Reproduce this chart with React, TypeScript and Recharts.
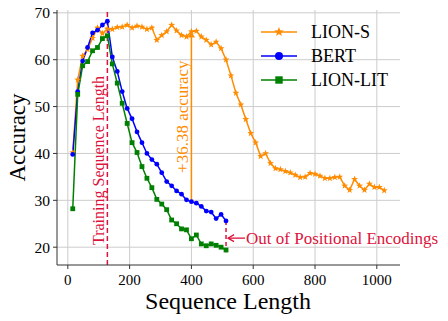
import { LineChart, Line, XAxis, YAxis, CartesianGrid, ReferenceLine, Legend } from 'recharts';

const seqLenLong = [
  16, 32, 48, 64, 80, 96, 112, 128, 144, 160, 176, 192, 208, 224, 240, 256,
  272, 288, 304, 320, 336, 352, 368, 384, 400, 416, 432, 448, 464, 480, 496, 512,
  528, 544, 560, 576, 592, 608, 624, 640, 656, 672, 688, 704, 720, 736, 752, 768,
  784, 800, 816, 832, 848, 864, 880, 896, 912, 928, 944, 960, 976, 992, 1008, 1024,
];
const lionS = [
  40.2, 55.7, 60.8, 62.2, 64.6, 66.8, 65.6, 66.6, 66.5, 66.9, 67.0, 67.4, 66.8, 67.2, 67.0, 66.5,
  66.8, 64.2, 65.2, 66.0, 67.4, 66.2, 65.2, 64.9, 66.0, 66.1, 64.9, 64.2, 63.2, 63.8, 62.4, 60.0,
  56.6, 52.9, 50.4, 47.3, 44.3, 42.3, 39.4, 40.0, 37.9, 36.8, 36.6, 36.2, 35.9, 35.4, 34.9, 35.0,
  35.8, 35.6, 35.2, 34.7, 34.7, 34.9, 35.0, 33.1, 32.2, 34.5, 33.1, 32.2, 33.5, 32.8, 32.8, 32.1,
];

const seqLenShort = [
  16, 32, 48, 64, 80, 96, 112, 128, 144, 160, 176, 192, 208, 224, 240, 256,
  272, 288, 304, 320, 336, 352, 368, 384, 400, 416, 432, 448, 464, 480, 496, 512,
];
const bert = [
  39.8, 53.2, 59.7, 62.6, 65.7, 66.3, 67.4, 68.2, 60.6, 57.5, 53.2, 49.6, 47.4, 44.6, 42.3, 40.0,
  38.7, 37.7, 35.9, 34.0, 33.1, 32.0, 31.3, 30.1, 29.7, 29.4, 28.7, 27.7, 27.5, 26.1, 27.0, 25.6,
];
const lionLit = [
  28.2, 52.6, 58.7, 59.6, 61.9, 62.6, 64.5, 65.1, 59.1, 55.0, 50.7, 46.4, 42.3, 40.2, 37.2, 34.7,
  32.7, 30.2, 29.2, 28.0, 25.8, 25.0, 23.9, 23.7, 21.8, 22.6, 20.7, 20.3, 20.7, 20.4, 20.0, 19.4,
];

const xTicks = [0, 200, 400, 600, 800, 1000];
const yTicks = [20, 30, 40, 50, 60, 70];
const trainLen = 128;
const gapLen = 400;
const maxPosLen = 512;

const FONT = "'Liberation Serif', 'DejaVu Serif', serif";
const ORANGE = '#ff8c00';
const BLUE = '#0000ff';
const GREEN = '#008000';
const RED = '#dc143c';
const GRID = '#cccccc';

const sData = seqLenLong.map((x, i) => ({ x, y: lionS[i] }));
const bData = seqLenShort.map((x, i) => ({ x, y: bert[i] }));
const lData = seqLenShort.map((x, i) => ({ x, y: lionLit[i] }));

const gapIdx = seqLenShort.indexOf(gapLen);
const gapLow = bert[gapIdx];
const gapHigh = lionS[seqLenLong.indexOf(gapLen)];
const lastIdx = seqLenShort.indexOf(maxPosLen);

function starPath(cx: number, cy: number, r: number) {
  const pts: string[] = [];
  for (let i = 0; i < 10; i++) {
    const rr = i % 2 === 0 ? r : r * 0.42;
    const a = -Math.PI / 2 + (i * Math.PI) / 5;
    pts.push(`${cx + rr * Math.cos(a)},${cy + rr * Math.sin(a)}`);
  }
  return 'M' + pts.join('L') + 'Z';
}

const starDot = (p: any) =>
  p.cx == null ? null : <path key={`s${p.index}`} d={starPath(p.cx, p.cy, 3.6)} fill={ORANGE} />;
const circleDot = (p: any) =>
  p.cx == null ? null : <circle key={`b${p.index}`} cx={p.cx} cy={p.cy} r={2.4} fill={BLUE} />;
const squareDot = (p: any) =>
  p.cx == null ? null : (
    <rect key={`l${p.index}`} x={p.cx - 2.4} y={p.cy - 2.4} width={4.8} height={4.8} fill={GREEN} />
  );

const txt = { fontFamily: FONT };

function LegendBox() {
  const rows = [
    { name: 'LION-S', color: ORANGE, kind: 'star' },
    { name: 'BERT', color: BLUE, kind: 'circle' },
    { name: 'LION-LIT', color: GREEN, kind: 'square' },
  ];
  return (
    <svg width={140} height={76} style={{ display: 'block' }}>
      {rows.map((r, i) => {
        const y = 14 + i * 24;
        return (
          <g key={r.name}>
            <line x1={6} x2={42} y1={y} y2={y} stroke={r.color} strokeWidth={1.5} />
            {r.kind === 'star' && <path d={starPath(24, y, 5)} fill={r.color} />}
            {r.kind === 'circle' && <circle cx={24} cy={y} r={4} fill={r.color} />}
            {r.kind === 'square' && <rect x={20.3} y={y - 3.7} width={7.4} height={7.4} fill={r.color} />}
            <text x={56} y={y} dominantBaseline="central" style={txt} fontSize={18} fill="#000">
              {r.name}
            </text>
          </g>
        );
      })}
    </svg>
  );
}

const trainLabel = (p: any) => {
  const { x, y, height } = p.viewBox;
  const bx = x - 3;
  const cy = y + height * 0.59;
  return (
    <text x={bx} y={cy} transform={`rotate(-90 ${bx} ${cy})`} textAnchor="middle" style={txt} fontSize={16} fill={RED}>
      Training Sequence Length
    </text>
  );
};

const gapLabel = (p: any) => {
  const { x, y, height } = p.viewBox;
  const bx = x - 3;
  const cy = y + height / 2;
  return (
    <text x={bx} y={cy} transform={`rotate(-90 ${bx} ${cy})`} textAnchor="middle" style={txt} fontSize={17} fill={ORANGE}>
      +36.38 accuracy
    </text>
  );
};

const gapArrow = (p: any) => {
  const { x1, y1, x2, y2 } = p;
  const top = Math.min(y1, y2);
  const bot = Math.max(y1, y2);
  return (
    <g>
      <line x1={x1} x2={x2} y1={bot} y2={top + 4} stroke={ORANGE} strokeWidth={1.5} />
      <path d={`M${x1},${top}L${x1 - 3.5},${top + 6}L${x1 + 3.5},${top + 6}Z`} fill={ORANGE} />
    </g>
  );
};

const oopLabel = (p: any) => {
  const { x, y, height } = p.viewBox;
  const my = y + height / 2 + 1.5;
  return (
    <g>
      <line x1={x + 2} x2={x + 19} y1={my} y2={my} stroke={RED} strokeWidth={1.3} />
      <path d={`M${x + 8},${my - 3.5}L${x + 2},${my}L${x + 8},${my + 3.5}`} fill="none" stroke={RED} strokeWidth={1.3} />
      <text x={x + 20} y={my} dominantBaseline="central" style={txt} fontSize={17} fill={RED}>
        Out of Positional Encodings
      </text>
    </g>
  );
};

export default function App() {
  return (
    <div style={{ position: 'absolute', left: 0, top: 0, width: 448, height: 321, background: '#fff', fontFamily: FONT }}>
      <LineChart width={448} height={321} margin={{ top: 10, right: 48, left: 0, bottom: 0 }} style={txt}>
        <CartesianGrid stroke={GRID} strokeWidth={1} vertical={false} horizontalValues={yTicks} />
        {xTicks.map((t) => (
          <ReferenceLine key={`g${t}`} x={t} stroke={GRID} strokeWidth={1} />
        ))}
        <XAxis
          dataKey="x"
          type="number"
          domain={[-35, 1075]}
          ticks={xTicks}
          height={56}
          allowDataOverflow
          stroke="#333"
          tickSize={4}
          tickMargin={5}
          tick={{ fill: '#000', fontSize: 15, style: txt }}
        />
        <YAxis
          type="number"
          domain={[16.2, 70.6]}
          ticks={yTicks}
          width={57}
          allowDataOverflow
          stroke="#333"
          tickSize={4}
          tickMargin={3}
          tick={{ fill: '#000', fontSize: 15.5, style: txt }}
        />
        <ReferenceLine x={trainLen} stroke={RED} strokeWidth={1.5} strokeDasharray="5 3" label={trainLabel} />
        <Line data={sData} dataKey="y" name="LION-S" stroke={ORANGE} strokeWidth={1.5} dot={starDot} activeDot={false} isAnimationActive={false} />
        <Line data={bData} dataKey="y" name="BERT" stroke={BLUE} strokeWidth={1.5} dot={circleDot} activeDot={false} isAnimationActive={false} />
        <Line data={lData} dataKey="y" name="LION-LIT" stroke={GREEN} strokeWidth={1.5} dot={squareDot} activeDot={false} isAnimationActive={false} />
        <ReferenceLine
          segment={[{ x: gapLen, y: gapLow }, { x: gapLen, y: gapHigh }]}
          stroke={ORANGE}
          shape={gapArrow}
          label={gapLabel}
        />
        <ReferenceLine
          segment={[{ x: maxPosLen, y: bert[lastIdx] }, { x: maxPosLen, y: lionLit[lastIdx] - 0.5 }]}
          stroke={RED}
          strokeWidth={1.5}
          strokeDasharray="4 3"
          label={oopLabel}
        />
        <Legend
          layout="vertical"
          align="center"
          verticalAlign="middle"
          wrapperStyle={{ position: 'absolute', left: 255, top: 18, width: 140, height: 76 }}
          content={() => <LegendBox />}
        />
      </LineChart>
      <svg width={448} height={321} style={{ position: 'absolute', left: 0, top: 0, pointerEvents: 'none' }}>
        <text x={25} y={137.5} transform="rotate(-90 25 137.5)" textAnchor="middle" style={txt} fontSize={23} fill="#000">
          Accuracy
        </text>
        <text x={228} y={308.5} textAnchor="middle" style={txt} fontSize={24} fill="#000">
          Sequence Length
        </text>
      </svg>
    </div>
  );
}
